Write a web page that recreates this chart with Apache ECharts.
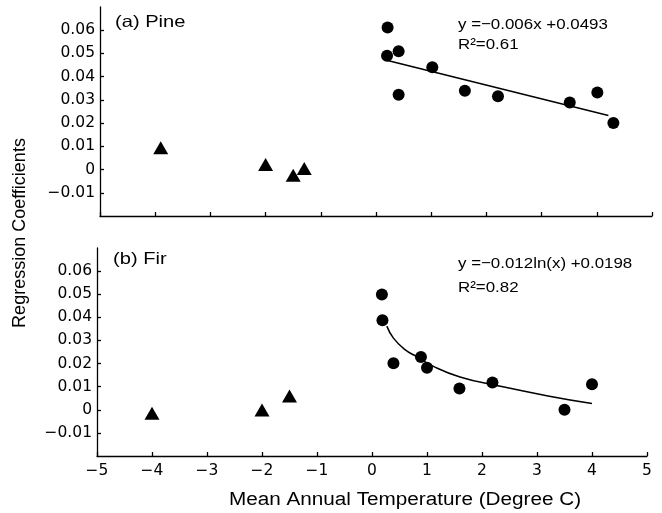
<!DOCTYPE html>
<html>
<head>
<meta charset="utf-8">
<script src="https://cdn.jsdelivr.net/npm/echarts@6/dist/echarts.min.js"></script>
<style>
html,body{margin:0;padding:0;background:#fff;}
#chart{width:662px;height:513px;}
</style>
</head>
<body>
<div id="chart"></div>
<script>
// ---- Data ----
var pineTriX = [-3.9, -2.0, -1.5, -1.3];
var pineTriY = [0.0094, 0.0022, -0.0025, 0.0005];
var pineCircX = [0.21, 0.20, 0.41, 0.41, 1.02, 1.61, 2.21, 3.51, 4.01, 4.30];
var pineCircY = [0.0612, 0.0490, 0.0509, 0.0322, 0.0441, 0.0339, 0.0316, 0.0289, 0.0332, 0.0200];
var pineFitX = [0.21, 4.21];
var pineFitY = [0.0470, 0.0233];

var firTriX = [-4.0, -2.0, -1.5];
var firTriY = [-0.0015, -0.0001, 0.0060];
var firCircX = [0.18, 0.19, 0.39, 0.89, 1.00, 1.59, 2.19, 3.50, 4.00];
var firCircY = [0.0499, 0.0387, 0.0201, 0.0228, 0.0182, 0.0092, 0.0118, 0.0000, 0.0110];
var firFitX = [0.27, 0.39, 0.60, 0.80, 1.10, 1.60, 2.27, 3.20, 4.00];
var firFitY = [0.0362, 0.0310, 0.0260, 0.0232, 0.0190, 0.0142, 0.0105, 0.0060, 0.0027];

var yTickVals = [-0.01, 0, 0.01, 0.02, 0.03, 0.04, 0.05, 0.06];
var yTickLabels = ['\u22120.01', '0', '0.01', '0.02', '0.03', '0.04', '0.05', '0.06'];
var xTickVals = [-5, -4, -3, -2, -1, 0, 1, 2, 3, 4, 5];
var xTickLabels = ['\u22125', '\u22124', '\u22123', '\u22122', '\u22121', '0', '1', '2', '3', '4', '5'];

var panelLabels = ['(a) Pine', '(b) Fir'];
var eqTexts = ['y =\u22120.006x +0.0493', 'y =\u22120.012ln(x) +0.0198'];
var r2Texts = ['R\u00b2=0.61', 'R\u00b2=0.82'];
var xTitle = 'Mean Annual Temperature (Degree C)';
var yTitle = 'Regression Coefficients';

function pairs(xs, ys) { return xs.map(function (x, i) { return [x, ys[i]]; }); }
function nearestLabel(v, vals, labels) {
  var best = 0, bd = Infinity;
  for (var i = 0; i < vals.length; i++) { var d = Math.abs(vals[i] - v); if (d < bd) { bd = d; best = i; } }
  return bd < 1e-6 ? labels[best] : '';
}

var axisLineStyle = { color: '#000', width: 1.3 };
var tickFont = { fontFamily: 'DejaVu Sans', fontSize: 15.5, color: '#000' };

function makeX(gi, showLabels) {
  return {
    gridIndex: gi, type: 'value', min: -5, max: 5, interval: 1,
    axisLine: { show: true, onZero: false, lineStyle: axisLineStyle },
    axisTick: { show: true, inside: true, length: 4, lineStyle: axisLineStyle },
    axisLabel: Object.assign({
      show: showLabels, margin: 7,
      formatter: function (v) { return nearestLabel(v, xTickVals, xTickLabels); }
    }, tickFont),
    splitLine: { show: false }
  };
}
function makeY(gi) {
  return {
    gridIndex: gi, type: 'value', min: -0.02, max: 0.07,
    axisLine: { show: true, onZero: false, lineStyle: axisLineStyle },
    axisTick: { show: true, inside: true, length: 4, customValues: yTickVals, lineStyle: axisLineStyle },
    axisLabel: Object.assign({
      show: true, margin: 5, customValues: yTickVals,
      formatter: function (v) { return nearestLabel(v, yTickVals, yTickLabels); }
    }, tickFont),
    splitLine: { show: false }
  };
}

var markStyle = { color: '#000', opacity: 1 };
function scatter(xi, data, symbol, size) {
  return { type: 'scatter', xAxisIndex: xi, yAxisIndex: xi, data: data, symbol: symbol,
    symbolSize: size, itemStyle: markStyle, z: 3, silent: true };
}
function fitLine(xi, data, smooth) {
  return { type: 'line', xAxisIndex: xi, yAxisIndex: xi, data: data, smooth: smooth,
    showSymbol: false, symbol: 'none', lineStyle: { color: '#000', width: 1.5, opacity: 1 }, z: 2, silent: true };
}

function txt(text, x, y, size, sx) {
  return {
    type: 'text', x: x, y: y, scaleX: sx, silent: true,
    style: { text: text, fontFamily: 'Liberation Sans', fontSize: size, fill: '#000',
      align: 'left', verticalAlign: 'middle' }
  };
}

var chart = echarts.init(document.getElementById('chart'), null, { renderer: 'canvas' });
chart.setOption({
  backgroundColor: '#fff',
  animation: false,
  grid: [
    { left: 100, right: 10, top: 7, height: 209 },
    { left: 97, right: 15, top: 248, height: 208 }
  ],
  xAxis: [makeX(0, false), makeX(1, true)],
  yAxis: [makeY(0), makeY(1)],
  series: [
    fitLine(0, pairs(pineFitX, pineFitY), false),
    scatter(0, pairs(pineTriX, pineTriY), 'triangle', [15, 13]),
    scatter(0, pairs(pineCircX, pineCircY), 'circle', 12),
    fitLine(1, pairs(firFitX, firFitY), true),
    scatter(1, pairs(firTriX, firTriY), 'triangle', [15, 13]),
    scatter(1, pairs(firCircX, firCircY), 'circle', 12)
  ],
  graphic: [
    txt(panelLabels[0], 115, 22, 16.5, 1.22),
    txt(panelLabels[1], 113, 259, 16.5, 1.22),
    txt(eqTexts[0], 458, 25, 15.5, 1.09),
    txt(r2Texts[0], 458, 45, 15.5, 1.09),
    txt(eqTexts[1], 458, 264, 15.5, 1.09),
    txt(r2Texts[1], 458, 288, 15.5, 1.09),
    {
      type: 'text', x: 405, y: 500, scaleX: 1.15, silent: true,
      style: { text: xTitle, fontFamily: 'Liberation Sans', fontSize: 18, fill: '#000',
        align: 'center', verticalAlign: 'middle' }
    },
    {
      type: 'text', x: 20, y: 233, rotation: Math.PI / 2, silent: true,
      style: { text: yTitle, fontFamily: 'Liberation Sans', fontSize: 18, fill: '#000',
        align: 'center', verticalAlign: 'middle' }
    }
  ]
});
</script>
</body>
</html>
